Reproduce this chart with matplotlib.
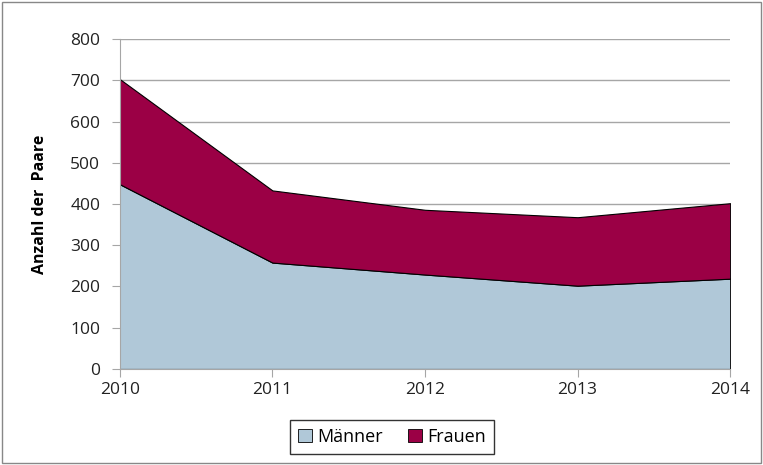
import numpy as np
import matplotlib.pyplot as plt
from matplotlib.patches import Rectangle

plt.rcParams['font.family'] = ['Open Sans', 'DejaVu Sans']

# Data
years = [2010, 2011, 2012, 2013, 2014]
maenner = [448, 258, 229, 202, 219]
frauen = [255, 175, 157, 166, 183]

col_m = "#B0C8D8"
col_f = "#9B0045"

fig = plt.figure(figsize=(7.63, 4.65), dpi=100)
ax = fig.add_axes([0.157, 0.2065, 0.8, 0.7095])

ax.stackplot(years, maenner, frauen, colors=[col_m, col_f],
             edgecolor="black", linewidth=0.8, labels=["Männer", "Frauen"])

ax.set_xlim(2010, 2014)
ax.set_ylim(0, 800)
ax.set_xticks(years)
ax.set_yticks(np.arange(0, 801, 100))
ax.yaxis.grid(True, color="#A6A6A6", linewidth=1)
ax.set_axisbelow(True)
for s in ["top", "right"]:
    ax.spines[s].set_visible(False)
ax.spines["left"].set_color("#A6A6A6")
ax.spines["bottom"].set_color("#A6A6A6")
ax.tick_params(axis="both", colors="#A6A6A6", labelcolor="#222222", labelsize=12.5, length=6)
ax.tick_params(axis="y", pad=8)
ax.set_ylabel("Anzahl der  Paare", fontsize=11.5, fontweight="bold", labelpad=16)

leg = fig.legend(loc="center", bbox_to_anchor=(0.514, 0.06), ncol=2, fontsize=13,
                 frameon=True, fancybox=False, edgecolor="black", handlelength=0.75,
                 handleheight=0.75, handletextpad=0.3, columnspacing=1.4, borderpad=0.45)
leg.get_frame().set_linewidth(1)
for h in leg.legend_handles:
    h.set_edgecolor("black")
    h.set_linewidth(0.6)

fig.patches.append(Rectangle((0.003, 0.004), 0.994, 0.992, transform=fig.transFigure,
                             fill=False, edgecolor="#888888", linewidth=1))

fig.savefig("out.png", dpi=100)
